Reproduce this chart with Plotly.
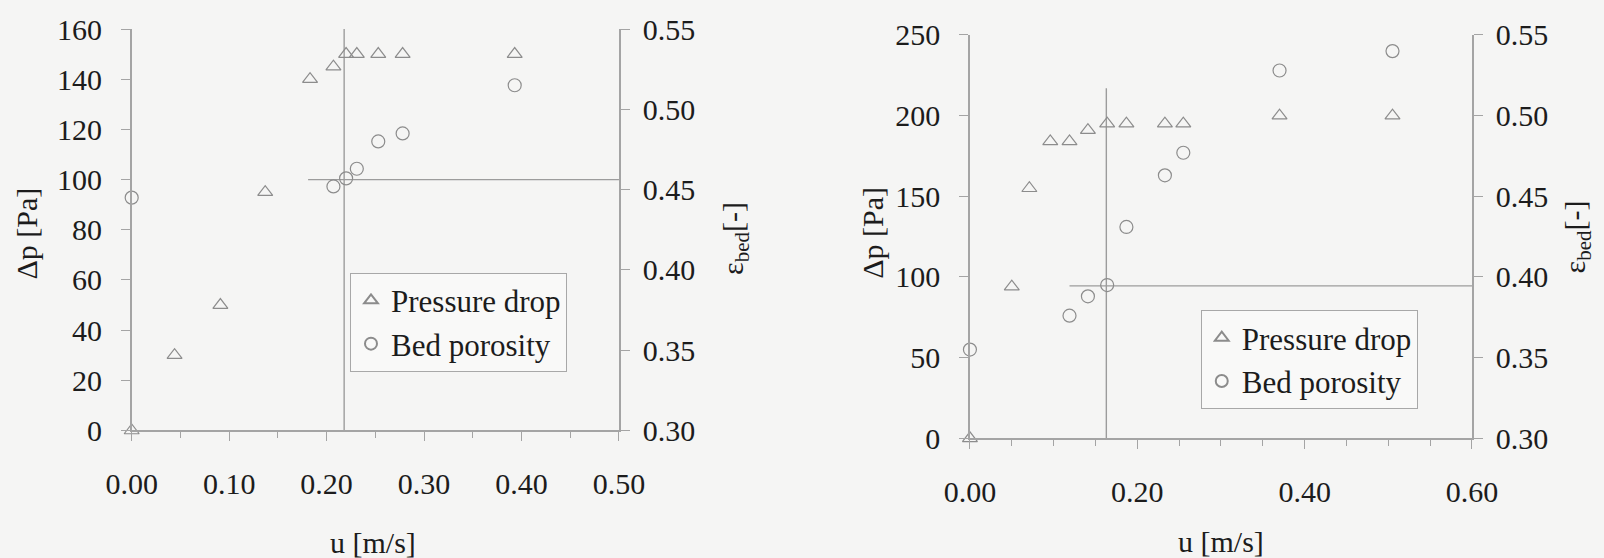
import plotly.graph_objects as go

# ---- Left panel: finer sand ----
u_left_dp = [0.000, 0.044, 0.091, 0.137, 0.183, 0.207, 0.220, 0.231, 0.253, 0.278, 0.393]
dp_left = [0, 30, 50, 95, 140, 145, 150, 150, 150, 150, 150]
u_left_eps = [0.000, 0.207, 0.220, 0.231, 0.253, 0.278, 0.393]
eps_left = [0.445, 0.452, 0.457, 0.463, 0.480, 0.485, 0.515]

# minimum-fluidization guide lines (left)
umf_left_u = [0.218, 0.218]
umf_left_dp = [0, 160]
plateau_left_u = [0.181, 0.5]
plateau_left_dp = [100, 100]

# ---- Right panel: coarser sand ----
u_right_dp = [0.000, 0.050, 0.071, 0.096, 0.119, 0.141, 0.164, 0.187, 0.233, 0.255, 0.370, 0.505]
dp_right = [0, 94, 155, 184, 184, 191, 195, 195, 195, 195, 200, 200]
u_right_eps = [0.000, 0.119, 0.141, 0.164, 0.187, 0.233, 0.255, 0.370, 0.505]
eps_right = [0.355, 0.376, 0.388, 0.395, 0.431, 0.463, 0.477, 0.528, 0.540]

umf_right_u = [0.163, 0.163]
umf_right_dp = [0, 217]
plateau_right_u = [0.119, 0.6]
plateau_right_dp = [94.5, 94.5]

FONT = "Liberation Serif"
TXT = "#1c1c1c"
MARK = "#8c8c8c"
AXIS = "#a4a4a4"
BG = "#f5f5f4"

fig = go.Figure()

def add_series(x, y, xa, ya, symbol, name, legend):
    fig.add_trace(go.Scatter(
        x=x, y=y, xaxis=xa, yaxis=ya, mode="markers", name=name,
        legend=legend, cliponaxis=False,
        marker=dict(symbol=symbol, size=13, color=MARK,
                    line=dict(color=MARK, width=1.2)),
    ))

def add_guide(x, y, xa, ya):
    fig.add_trace(go.Scatter(
        x=x, y=y, xaxis=xa, yaxis=ya, mode="lines", showlegend=False,
        cliponaxis=False, hoverinfo="skip",
        line=dict(color="#9c9c9c", width=1.4),
    ))

add_guide(umf_left_u, umf_left_dp, "x", "y")
add_guide(plateau_left_u, plateau_left_dp, "x", "y")
add_series(u_left_dp, dp_left, "x", "y", "triangle-up-open", "Pressure drop", "legend")
add_series(u_left_eps, eps_left, "x", "y2", "circle-open", "Bed porosity", "legend")

add_guide(umf_right_u, umf_right_dp, "x2", "y3")
add_guide(plateau_right_u, plateau_right_dp, "x2", "y3")
add_series(u_right_dp, dp_right, "x2", "y3", "triangle-up-open", "Pressure drop", "legend2")
add_series(u_right_eps, eps_right, "x2", "y4", "circle-open", "Bed porosity", "legend2")

tickfont = dict(family=FONT, size=30, color=TXT)

def xaxis(domain, rng, dtick, anchor):
    return dict(domain=domain, range=rng, anchor=anchor, dtick=dtick, tick0=0,
                automargin=False,
                tickformat=".2f", ticks="outside", ticklen=9, tickwidth=1.3,
                tickcolor=AXIS, showline=True, linecolor=AXIS, linewidth=1.5,
                showgrid=False, zeroline=False, tickfont=tickfont,
                ticklabelstandoff=17,
                minor=dict(dtick=0.05, tick0=0, ticks="outside", ticklen=6,
                           tickcolor=AXIS, tickwidth=1.2, showgrid=False))

def yaxis(domain, rng, dtick, anchor, fmt, side="left", overlay=None):
    d = dict(domain=domain, range=rng, anchor=anchor, dtick=dtick, tick0=rng[0],
             automargin=False,
             tickformat=fmt, ticks="outside", ticklen=9, tickwidth=1.3,
             tickcolor=AXIS, showline=True, linecolor=AXIS, linewidth=1.5,
             showgrid=False, zeroline=False, tickfont=tickfont, side=side,
             ticklabelstandoff=13 if side == "left" else 7)
    if overlay:
        d["overlaying"] = overlay
    return d

legend_common = dict(
    font=dict(family=FONT, size=31, color=TXT),
    bgcolor="rgba(249,249,248,0.9)", bordercolor="#a8a8a8", borderwidth=1,
    xanchor="left", yanchor="top", tracegroupgap=0, itemwidth=30,
    itemsizing="constant",
)

title_font = dict(family=FONT, size=30, color=TXT)

def label(text, x, y, angle=0):
    return dict(text=text, x=x, y=y, xref="paper", yref="paper",
                showarrow=False, textangle=angle, font=title_font,
                xanchor="center", yanchor="middle")

fig.update_layout(
    width=1604, height=558,
    margin=dict(l=0, r=0, t=0, b=0),
    paper_bgcolor=BG, plot_bgcolor=BG,
    showlegend=True,
    xaxis=xaxis([0.0821, 0.3859], [0, 0.5], 0.1, "y"),
    yaxis=yaxis([0.2285, 0.948], [0, 160], 20, "x", "d"),
    yaxis2=yaxis([0.2285, 0.948], [0.30, 0.55], 0.05, "x", ".2f", "right", "y"),
    xaxis2=xaxis([0.6047, 0.9177], [0, 0.6], 0.2, "y3"),
    yaxis3=yaxis([0.2145, 0.9373], [0, 250], 50, "x2", "d"),
    yaxis4=yaxis([0.2145, 0.9373], [0.30, 0.55], 0.05, "x2", ".2f", "right", "y3"),
    legend=dict(x=0.2182, y=0.5113, **legend_common),
    legend2=dict(x=0.7486, y=0.4444, **legend_common),
    annotations=[
        label("Δp [Pa]", 0.0165, 0.5824, -90),
        label("u [m/s]", 0.2325, 0.0269),
        label("ε<sub>bed</sub>[-]", 0.4582, 0.5735, -90),
        label("Δp [Pa]", 0.5435, 0.5824, -90),
        label("u [m/s]", 0.7610, 0.0300),
        label("ε<sub>bed</sub>[-]", 0.9830, 0.5758, -90),
    ],
)

fig.write_html("out.html")
